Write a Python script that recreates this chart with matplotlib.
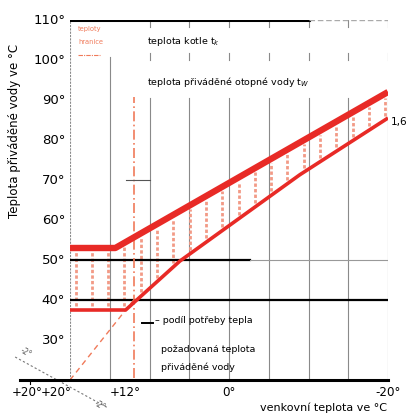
import matplotlib.pyplot as plt
import numpy as np

# venkovní teplota (x) a teploty vody (y)
kotel_x = [20, 14.3, -20]
kotel_t = [53, 53, 92]
voda_x = [20, 13, 6.2, -8.9, -20]
voda_t = [37.5, 37.5, 49.7, 71.3, 85.5]
pozad_x = [20, 12]
pozad_t = [20, 40]
mez_x = 12
hladiny = [50, 40]

x_ticks = [20, 12, 0, -20]
x_labels = ['+20°', '+12°', '0°', '-20°']
y_ticks = [30, 40, 50, 60, 70, 80, 90, 100, 110]

red = '#e82a26'
salmon = '#f29a86'

fig = plt.figure(figsize=(4.11, 4.13), dpi=100)
ax = fig.add_axes([70 / 411, 1 - 380 / 413, 318 / 411, 360 / 413])
ax.set_xlim(20, -20)
ax.set_ylim(20, 110)
for s in ax.spines.values():
    s.set_visible(False)
ax.set_xticks([])
ax.set_yticks([])

# svislá mřížka po 5 °C
for gx in np.arange(15, -21, -5):
    top = 100.75 if gx == 15 else 90.5
    ax.plot([gx, gx], [20, top], color='#8a8a8a', lw=0.8, zorder=1)
    if gx != 15:
        ax.plot([gx, gx], [100, 101.75], color='#8a8a8a', lw=0.8, zorder=1)
        ax.plot([gx, gx], [108.25, 110], color='#8a8a8a', lw=0.8, zorder=1)
ax.plot([20, 20], [20, 110], color='#8a8a8a', lw=0.8, ls=(0, (2, 1)), zorder=1)

# vodorovné čáry
ax.plot([20, -10], [110, 110], color='black', lw=2.2, zorder=3)
ax.plot([-10, -20], [110, 110], color='#aaaaaa', lw=1.0, ls=(0, (4, 2)), zorder=3)
ax.plot([20, -2.6], [hladiny[0]] * 2, color='black', lw=1.6, zorder=3)
ax.plot([-2.6, -20], [hladiny[0]] * 2, color='#999999', lw=0.8, zorder=3)
ax.plot([20, -20], [hladiny[1]] * 2, color='black', lw=1.6, zorder=3)

# šrafování mezi křivkami
hx = np.arange(19.3, -20, -2.05)
up = np.interp(-hx, [-v for v in kotel_x], kotel_t)
lo = np.interp(-hx, [-v for v in voda_x], voda_t)
for xx, a, b in zip(hx, lo, up):
    ax.plot([xx, xx], [a + 1, b - 1], color=salmon, lw=2.0,
            ls=(0, (1.2, 0.8)), zorder=2)

# hranice vytápění
ax.plot([mez_x, mez_x], [20.5, 90.8], color='#f07a5a', lw=1.2,
        ls=(0, (6, 2, 1, 2)), zorder=4)
ax.plot(pozad_x, pozad_t, color='#f07a5a', lw=1.0, ls=(0, (4, 3)), zorder=4)

# křivky
ax.plot(kotel_x, kotel_t, color=red, lw=4.6, solid_capstyle='butt', zorder=5)
ax.plot(voda_x, voda_t, color=red, lw=2.6, solid_capstyle='butt', zorder=5)

# drobné značky
ax.plot([12.9, 10], [70, 70], color='#555555', lw=0.8, zorder=6)
ax.plot([11, 9.6], [34.3, 34.3], color='black', lw=1.4, zorder=6)

# osa x
ax.plot([26.3, -20], [20, 20], color='black', lw=2.2, clip_on=False, zorder=6)
ax.plot([25, 25], [20, 19], color='black', lw=0.8, clip_on=False)
ax.plot([26.9, 15.2], [25.75, 13], color='#777777', lw=0.8,
        ls=(0, (2, 2)), clip_on=False)
ax.text(25.6, 26.8, '-2°', fontsize=5.5, rotation=-30, color='#555555',
        ha='center', va='center')
ax.text(16.2, 13.6, '-2°', fontsize=5.5, rotation=-30, color='#555555',
        ha='center', va='center', clip_on=False)

for xv, lab in zip(x_ticks, x_labels):
    dx = {20: 1.8, 12: 1.0}.get(xv, 0)
    ax.text(xv + dx, 16.8, lab, fontsize=8.6, ha='center', va='center')
ax.text(25.4, 16.8, '+20°', fontsize=8.6, ha='center', va='center')

for yv in y_ticks:
    ax.text(20.6, yv, f'{yv}°', fontsize=9.5, ha='right', va='center')

# popisky
fs = 6.8
ax.text(10.3, 104.5, 'teplota kotle t$_k$', fontsize=fs, va='center')
ax.text(10.3, 94.5, 'teplota přiváděné otopné vody t$_W$', fontsize=fs,
        va='center')
ax.text(9.3, 34.8, '– podíl potřeby tepla', fontsize=fs, va='center')
ax.text(8.6, 27.5, 'požadovaná teplota', fontsize=fs, va='center')
ax.text(8.6, 23.3, 'přiváděné vody', fontsize=fs, va='center')
ax.text(-20.3, 84.5, '1,6', fontsize=7.5, va='center', ha='left')

# legenda
ax.text(19.0, 107.8, 'teploty', fontsize=4.8, color='#f07a5a', va='center')
ax.text(19.0, 104.6, 'hranice', fontsize=4.8, color='#f07a5a', va='center')
ax.plot([19.0, 16.2], [101.3, 101.3], color='#f07a5a', lw=0.8,
        ls=(0, (4, 1, 1, 1)))

fig.text(15 / 411, 1 - 131 / 413, 'Teplota přiváděné vody ve °C',
         rotation=90, fontsize=8.5, ha='center', va='center')
fig.text(387 / 411, 1 - 408 / 413, 'venkovní teplota ve °C',
         fontsize=8, ha='right', va='center')

fig.savefig('out.png', dpi=100)
